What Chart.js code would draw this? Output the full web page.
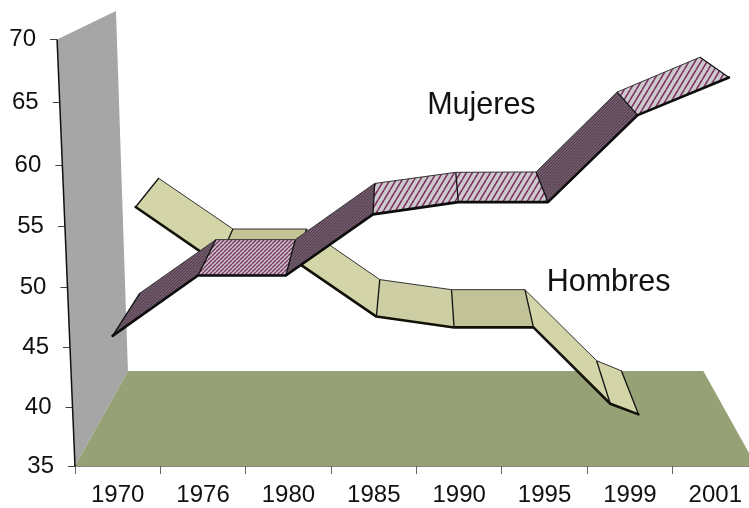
<!DOCTYPE html>
<html>
<head>
<meta charset="utf-8">
<style>html,body{margin:0;padding:0;background:#fff;overflow:hidden}canvas{display:block}</style>
<script src="https://cdn.jsdelivr.net/npm/chart.js@4/dist/chart.umd.js"></script>
</head>
<body>
<canvas id="c" width="749" height="508"></canvas>
<script>
const categories = ['1970','1976','1980','1985','1990','1995','1999','2001'];
const yTicks = [35,40,45,50,55,60,65,70];

// Values along the front and back edge of each 3D ribbon.
const mujeresFront = [46,51,51,56,57,57,64,67];
const mujeresBack  = [49.54,53.94,53.94,58.51,59.41,59.44,65.84,68.6];
const hombresFront = [56.6,52,52,47.6,46.7,46.7,40.3,39.4];
const hombresBack  = [58.93,54.81,54.81,50.66,49.83,49.83,43.92,43.07];

// Position of each vertex along the category axis (the perspective shifts them).
const mujeresFrontAt = [-0.06,0.94,1.97,2.99,3.99,5.04,6.09,7.16];
const mujeresBackAt  = [0.26,1.15,2.08,3.01,3.96,4.90,5.85,6.82];
const hombresFrontAt = [0.21,1.17,2.12,3.03,3.94,4.87,5.77,6.10];
const hombresBackAt  = [0.48,1.35,2.21,3.07,3.91,4.77,5.61,5.90];

// Wall and floor corners, in axis units.
const wallAt = [-0.71,-0.02,0.12,-0.5];
const wallVal = [70,72.24,43.05,35];
const floorAt = [0.12,6.86,7.48,-0.5];
const floorVal = [43.05,43.05,35,35];

const FONT = '"Liberation Sans", Arial, sans-serif';

function stripes(w, h, bg, fg, lw){
  const t = document.createElement('canvas');
  t.width = w; t.height = h;
  const g = t.getContext('2d');
  g.fillStyle = bg; g.fillRect(0,0,w,h);
  g.strokeStyle = fg; g.lineWidth = lw;
  for (let k=-1;k<=1;k++){
    g.beginPath();
    g.moveTo(k*w, h);
    g.lineTo(k*w+w, 0);
    g.stroke();
  }
  return g.createPattern(t,'repeat');
}
const dark = stripes(3,3,'#7a6a76','#5a3f54',1.3);
const mid  = stripes(4,4,'#c9c2c8','#7d3a66',1.4);
const wide = stripes(6,10,'#cccacc','#7b2d5e',1.5);
const mujeresFaces = [dark,mid,dark,wide,wide,dark,wide];
const hombresFaces = ['#d3d5a9','#c4c497','#d3d5a9','#cdcea3','#c2c299','#d3d5a9','#d3d5a9'];

class SlantedLinear extends Chart.LinearScale {
  getPixelForValue(value){
    if (value === null) return NaN;
    const t = (value - this.min) / (this.max - this.min);
    return this.getPixelForDecimal(t - 0.042 * t * (1 - t));
  }
  _axisX(y){ return 57 + (y - 39.5) * 18 / 426.5; }
  _computeGridLineItems(area){
    const items = super._computeGridLineItems(area);
    items.forEach(it => {
      const ax = this._axisX(it.ty1);
      it.tx1 = ax - 7; it.tx2 = ax;
    });
    return items;
  }
  _computeLabelItems(area){
    const items = super._computeLabelItems(area);
    items.forEach(it => {
      const tr = it.options.translation;
      it.options.translation = [this._axisX(tr[1]) - 21, tr[1]];
      it.options.textAlign = 'right';
    });
    return items;
  }
}
SlantedLinear.id = 'slantedLinear';
SlantedLinear.defaults = Chart.LinearScale.defaults;
Chart.register(SlantedLinear);

function zip(xs, ys){ return xs.map((x,i)=>({x, y:ys[i]})); }

function poly(ctx, pts){
  ctx.beginPath();
  pts.forEach((p,i)=> i ? ctx.lineTo(p.x,p.y) : ctx.moveTo(p.x,p.y));
  ctx.closePath();
}

const scene = {
  id:'scene',
  beforeDatasetsDraw(chart){
    const {ctx, scales:{x,y}} = chart;
    const toPx = (xs,ys)=> xs.map((v,i)=>({x:x.getPixelForValue(v), y:y.getPixelForValue(ys[i])}));
    const wall = toPx(wallAt, wallVal);
    const floor = toPx(floorAt, floorVal);
    ctx.save();
    ctx.fillStyle = '#a6a6a6'; poly(ctx, wall); ctx.fill();
    ctx.fillStyle = '#97a176'; poly(ctx, floor); ctx.fill();
    ctx.strokeStyle = '#111'; ctx.lineWidth = 1.5;
    ctx.beginPath(); ctx.moveTo(wall[0].x, wall[0].y); ctx.lineTo(wall[3].x, wall[3].y); ctx.stroke();
    ctx.restore();
  },
  beforeDatasetDraw(chart, args){
    if (args.index !== 1 && args.index !== 3) return;
    const ctx = chart.ctx;
    const back = chart.getDatasetMeta(args.index).data;
    const front = chart.getDatasetMeta(args.index - 1).data;
    const faces = args.index === 1 ? mujeresFaces : hombresFaces;
    ctx.save();
    ctx.lineJoin = 'round';
    for (let i=0;i<faces.length;i++){
      poly(ctx,[front[i],front[i+1],back[i+1],back[i]]);
      ctx.fillStyle = faces[i];
      ctx.fill();
    }
    ctx.strokeStyle = '#111'; ctx.lineWidth = 1.3;
    for (let i=0;i<front.length;i++){
      ctx.beginPath(); ctx.moveTo(front[i].x,front[i].y); ctx.lineTo(back[i].x,back[i].y); ctx.stroke();
    }
    ctx.restore();
  },
  afterDatasetsDraw(chart){
    const {ctx, scales:{x,y}} = chart;
    ctx.save();
    ctx.fillStyle = '#111';
    ctx.font = '30.5px ' + FONT;
    ctx.textAlign = 'center';
    ctx.textBaseline = 'middle';
    ctx.fillText('Mujeres', x.getPixelForValue(4.26), y.getPixelForValue(64.75));
    ctx.fillText('Hombres', x.getPixelForValue(5.75), y.getPixelForValue(50.42));
    ctx.restore();
  }
};

const edge = (label, xs, ys, w, color) => ({
  label, data: zip(xs, ys), borderColor: color, borderWidth: w,
  pointRadius: 0, tension: 0, fill: false, clip: false,
  borderJoinStyle: 'round', borderCapStyle: 'round'
});

new Chart(document.getElementById('c'), {
  type:'line',
  data:{ datasets:[
    edge('Mujeres', mujeresFrontAt, mujeresFront, 2.6, '#0c0c0c'),
    edge('Mujeres (fondo)', mujeresBackAt, mujeresBack, 1, '#333'),
    edge('Hombres', hombresFrontAt, hombresFront, 2.6, '#111108'),
    edge('Hombres (fondo)', hombresBackAt, hombresBack, 1, '#333')
  ]},
  plugins:[scene],
  options:{
    responsive:false,
    animation:false,
    devicePixelRatio:1,
    layout:{padding:{top:39.5,left:0,right:0,bottom:0}},
    plugins:{legend:{display:false},tooltip:{enabled:false}},
    scales:{
      x:{
        type:'linear', min:-0.5, max:7.383,
        afterFit(s){ s.height = 42; },
        afterBuildTicks(s){
          const t=[];
          for (let v=-0.5; v<=7; v+=0.5) t.push({value:v});
          s.ticks=t;
        },
        border:{display:true,color:'#111',width:1.5},
        grid:{
          drawOnChartArea:false, drawTicks:true, tickLength:8, tickWidth:1,
          tickColor:c=> (c.tick && c.tick.value % 1 !== 0) ? '#666' : 'rgba(0,0,0,0)'
        },
        ticks:{
          autoSkip:false, maxRotation:0, minRotation:0, padding:7, color:'#111',
          font:{family:FONT,size:24},
          callback:v=> Number.isInteger(v) ? categories[v] : ''
        }
      },
      y:{
        type:'slantedLinear', min:35, max:70,
        afterFit(s){ s.width = 75; },
        afterBuildTicks(s){ s.ticks = yTicks.map(v=>({value:v})); },
        border:{display:false},
        grid:{drawOnChartArea:false, drawTicks:true, tickLength:7, tickColor:'#444', tickWidth:1},
        ticks:{color:'#111', font:{family:FONT,size:24}, autoSkip:false}
      }
    }
  }
});
</script>
</body>
</html>
